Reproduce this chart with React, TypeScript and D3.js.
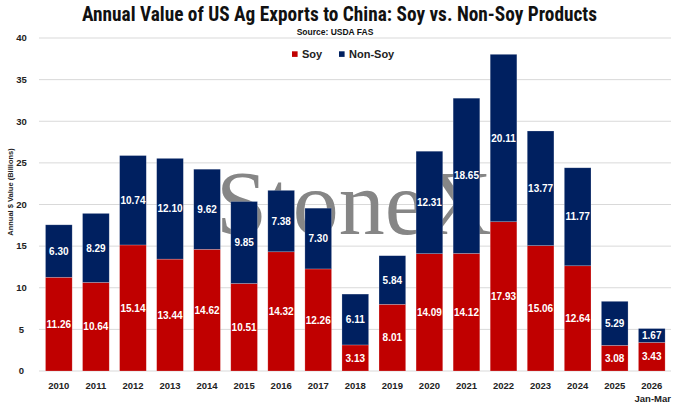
import React from 'react';
import * as d3 from 'd3';

const years = ['2010', '2011', '2012', '2013', '2014', '2015', '2016', '2017', '2018', '2019', '2020', '2021', '2022', '2023', '2024', '2025', '2026'];
const soy = [11.26, 10.64, 15.14, 13.44, 14.62, 10.51, 14.32, 12.26, 3.13, 8.01, 14.09, 14.12, 17.93, 15.06, 12.64, 3.08, 3.43];
const nonSoy = [6.3, 8.29, 10.74, 12.1, 9.62, 9.85, 7.38, 7.3, 6.11, 5.84, 12.31, 18.65, 20.11, 13.77, 11.77, 5.29, 1.67];
const yTicks = [0, 5, 10, 15, 20, 25, 30, 35, 40];

const W = 680;
const H = 408;
const RED = '#C00000';
const NAVY = '#002060';
const narrow = '"Liberation Sans Narrow", "Roboto Condensed", "Arial Narrow", sans-serif';
const sans = '"Liberation Sans", Arial, sans-serif';

const App: React.FC = () => {
  const x = d3.scaleBand<string>()
    .domain(years)
    .range([40.3, 670.3])
    .paddingInner(0.28)
    .paddingOuter(0.14);

  const y = d3.scaleLinear().domain([0, 40]).range([371, 38]);

  const rows = years.map((yr, i) => ({ yr, soy: soy[i], non: nonSoy[i] }));
  const stack = d3.stack<{ yr: string; soy: number; non: number }>().keys(['soy', 'non'])(rows);
  const colors = [RED, NAVY];

  return (
    <svg width={W} height={H} style={{ display: 'block', position: 'absolute', left: 0, top: 0 }}>
      <rect width={W} height={H} fill="#fff" />

      {/* gridlines */}
      {yTicks.map(t => (
        <line key={t} x1={39} x2={671} y1={y(t)} y2={y(t)} stroke="#d9d9d9" strokeWidth={1} />
      ))}

      {/* watermark */}
      <text x={216} y={234} fontFamily='"Liberation Serif", "DejaVu Serif", serif' fontSize={92} fill="#868686">
        StoneX
      </text>

      {/* bars */}
      {stack.map((series, si) => (
        <g key={series.key}>
          {series.map((d, i) => (
            <rect
              key={i}
              x={x(years[i])}
              y={y(d[1])}
              width={x.bandwidth()}
              height={y(d[0]) - y(d[1])}
              fill={colors[si]}
              stroke="#ffffff"
              strokeOpacity={0.35}
              strokeWidth={0.6}
            />
          ))}
        </g>
      ))}

      {/* bar labels */}
      {stack.map(series => (
        <g key={'l' + series.key}>
          {series.map((d, i) => (
            <text
              key={i}
              x={(x(years[i]) || 0) + x.bandwidth() / 2}
              y={(y(d[0]) + y(d[1])) / 2}
              dy="0.36em"
              textAnchor="middle"
              fontFamily={sans}
              fontWeight="bold"
              fontSize={10}
              fill="#fff"
            >
              {(d[1] - d[0]).toFixed(2)}
            </text>
          ))}
        </g>
      ))}

      {/* y axis labels */}
      {yTicks.map(t => (
        <text key={t} x={21.5} y={y(t)} dy="0.35em" textAnchor="middle" fontFamily={sans} fontWeight="bold" fontSize={9.5} fill="#222">
          {t}
        </text>
      ))}
      <text
        transform="translate(13,192) rotate(-90)"
        textAnchor="middle"
        fontFamily={sans}
        fontWeight="bold"
        fontSize={7.5}
        fill="#222"
      >
        Annual $ Value (Billions)
      </text>

      {/* x axis labels */}
      {years.map(yr => (
        <text key={yr} x={(x(yr) || 0) + x.bandwidth() / 2} y={389} textAnchor="middle" fontFamily={sans} fontWeight="bold" fontSize={9.5} fill="#222">
          {yr}
        </text>
      ))}
      <text x={(x('2026') || 0) + x.bandwidth() / 2 + 1} y={402} textAnchor="middle" fontFamily={sans} fontWeight="bold" fontSize={9.5} fill="#222">
        Jan-Mar
      </text>

      {/* title */}
      <text x={339.5} y={21} textAnchor="middle" fontFamily={narrow} fontWeight="bold" fontSize={19.5} fill="#111"
        textLength={515} lengthAdjust="spacingAndGlyphs">
        Annual Value of US Ag Exports to China: Soy vs. Non-Soy Products
      </text>
      <text x={335} y={35} textAnchor="middle" fontFamily={sans} fontWeight="bold" fontSize={8.5} fill="#111">
        Source: USDA FAS
      </text>

      {/* legend */}
      <rect x={292} y={51.3} width={5.6} height={5.6} fill={RED} />
      <text x={302} y={58} fontFamily={sans} fontWeight="bold" fontSize={11} fill="#222">Soy</text>
      <rect x={339} y={51.3} width={5.6} height={5.6} fill={NAVY} />
      <text x={349} y={58} fontFamily={sans} fontWeight="bold" fontSize={11} fill="#222">Non-Soy</text>
    </svg>
  );
};

export default App;
